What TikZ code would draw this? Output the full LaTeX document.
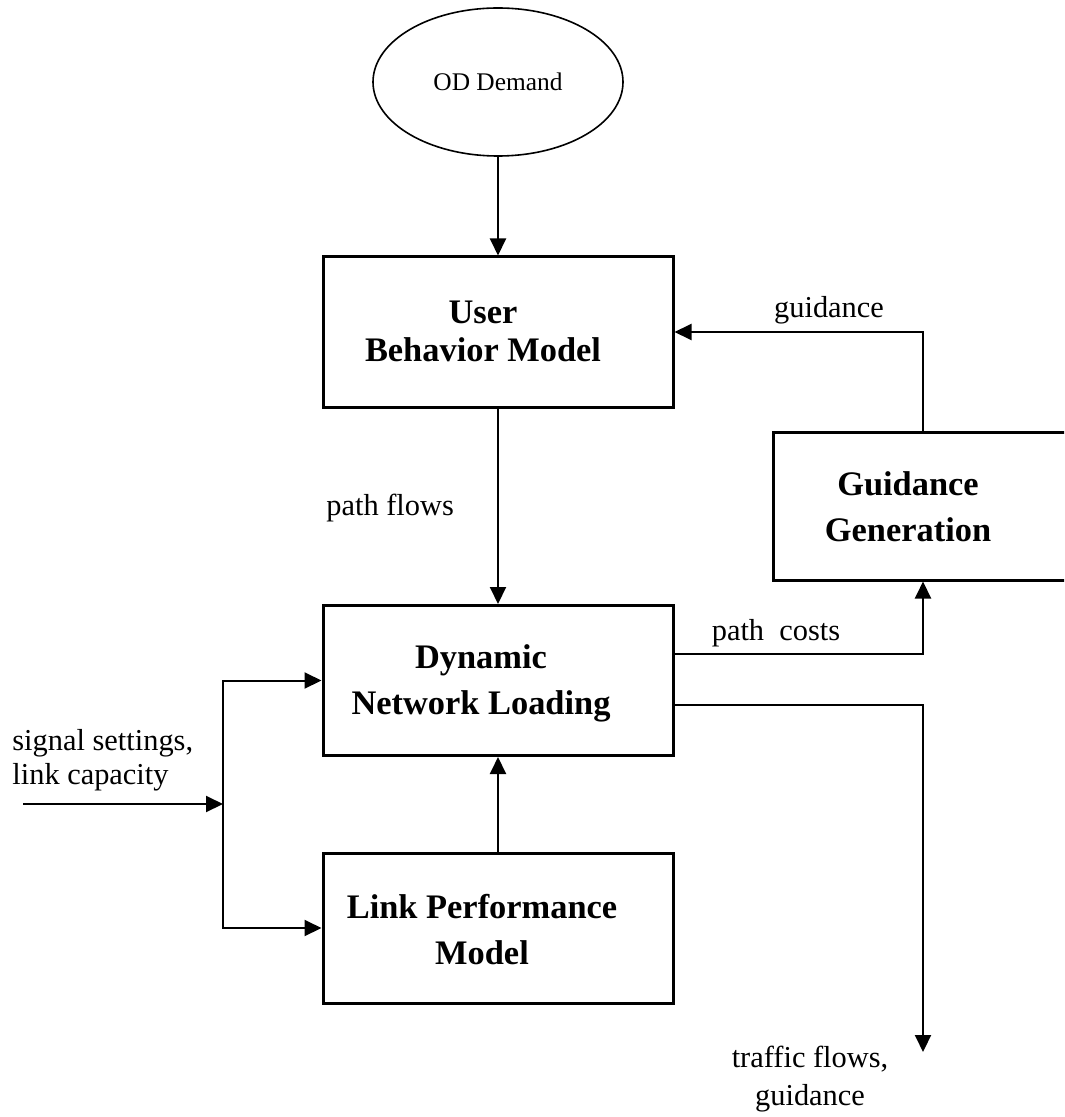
\documentclass[tikz,border=0pt]{standalone}
\usepackage{fontspec}
\setmainfont{Liberation Serif}
\usetikzlibrary{arrows.meta,shapes.geometric}
\begin{document}
\begin{tikzpicture}[x=0.5pt,y=-0.5pt,
  box/.style={draw,line width=1.5pt,rectangle,minimum width=175pt,minimum height=75pt,inner sep=0pt},
  boxtext/.style={align=center,inner sep=0pt,font=\fontsize{17.2pt}{23pt}\selectfont\bfseries},
  lbl/.style={inner sep=0pt,font=\fontsize{15.2pt}{17pt}\selectfont},
  ln/.style={line width=1pt},
  arr/.style={ln,-{Triangle[length=8.5pt,width=8pt]}}]
\clip (0,0) rectangle (1064,1117);

% demand source
\node[draw,ellipse,line width=0.8pt,minimum width=125pt,minimum height=74pt,inner sep=0pt,
      font=\fontsize{12.7pt}{15pt}\selectfont] (od) at (498,82) {OD Demand};

% model blocks
\node[box] (ubm) at (498,332) {};
\node[boxtext] (ubmtext) at (483,331) {User\\[-4pt]Behavior Model};

\node[box] (dnl) at (498,680.5) {};
\node[boxtext] (dnltext) at (481,683) {Dynamic\\Network Loading};

\node[box] (lpm) at (498,928) {};
\node[boxtext] (lpmtext) at (482,930) {Link Performance\\Model};

\node[box,minimum width=160pt,minimum height=74pt] (gg) at (933,506) {};
\node[boxtext] (ggtext) at (908,507) {Guidance\\Generation};

% helper points for the orthogonal connectors
\coordinate (gx) at (923,0);
\coordinate (pcy) at (0,654);
\coordinate (tfy) at (0,705);
\coordinate (out) at (923,1052);
\coordinate (in) at (23,804);
\coordinate (split) at (223,804);

% connectors
\draw[arr] (od.south) -- (ubm.north);
\draw[arr] (ubm.south) -- (dnl.north);
\draw[arr] (lpm.north) -- (dnl.south);
\draw[arr] (gg.north -| gx) |- (ubm.east);
\draw[arr] (dnl.east |- pcy) -| (gg.south -| gx);
\draw[arr] (dnl.east |- tfy) -| (out);
\draw[arr] (in) -- (split);
\draw[arr] (split) |- (dnl.west);
\draw[arr] (split) |- (lpm.west);

% connector labels
\node[lbl,anchor=west] (pflbl) at (326,508) {path flows};
\node[lbl] (glbl) at (829,310) {guidance};
\node[lbl] (pclbl) at (776,633) {path\ \ costs};
\node[lbl,align=left,anchor=west] (sslbl) at (12,760) {signal settings,\\link capacity};
\node[lbl,align=center,font=\fontsize{15.2pt}{19pt}\selectfont] (tflbl) at (810,1079) {traffic flows,\\guidance};
\end{tikzpicture}
\end{document}
